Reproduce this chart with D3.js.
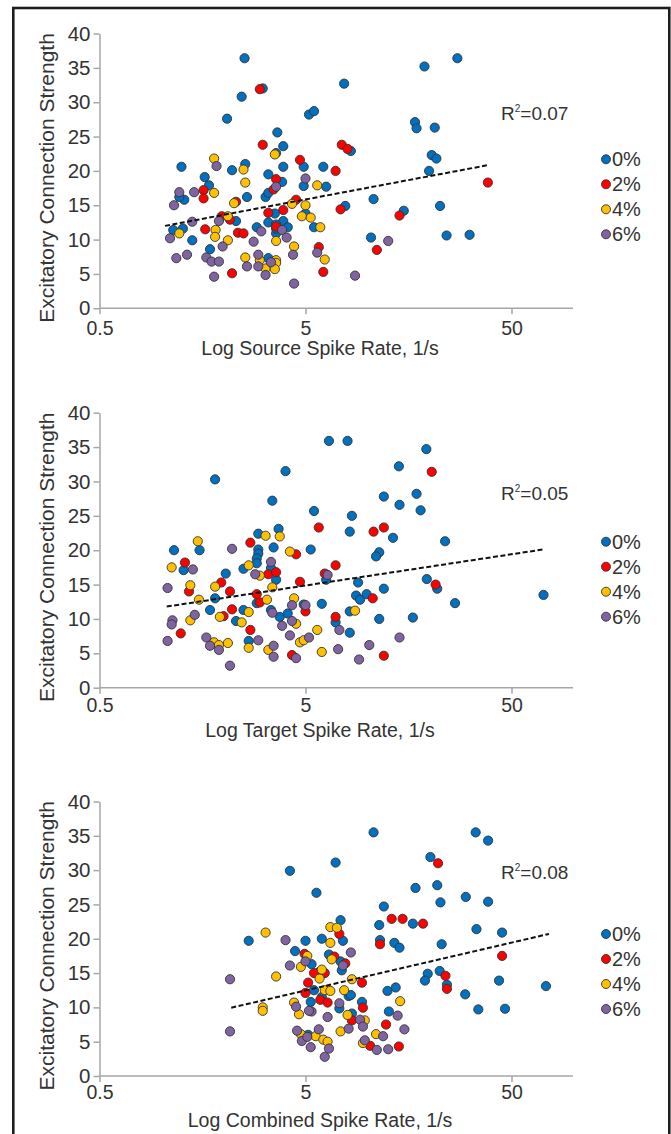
<!DOCTYPE html>
<html><head><meta charset="utf-8">
<script src="https://cdn.jsdelivr.net/npm/d3@7"></script>
<style>body{margin:0;background:#fff;} svg{display:block;font-family:"Liberation Sans",Arial,Helvetica,sans-serif;}</style>
</head><body>
<svg id="c" width="671" height="1134"></svg>
<script>
// ---------- data ----------
const seriesNames = ["0%", "2%", "4%", "6%"];
const seriesColors = ["#0070c0", "#ff0000", "#ffc000", "#8064a2"];
const xTicks = [0.5, 5, 50];
const yTicks = [0, 5, 10, 15, 20, 25, 30, 35, 40];
const xLabels = ["Log Source Spike Rate, 1/s", "Log Target Spike Rate, 1/s", "Log Combined Spike Rate, 1/s"];
const yLabel = "Excitatory Connection Strength";
const r2Values = ["0.07", "0.05", "0.08"];

// [rate (1/s), strength]
const source0 = [[2.53,36.4],[2.45,30.8],[2.08,27.6],[3.1,32.0],[3.65,25.6],[3.9,23.6],[3.6,22.6],[1.25,20.6],[3.9,20.6],[4.9,20.6],[6.1,20.6],[2.2,20.1],[2.55,21.0],[3.3,19.5],[3.85,18.4],[1.62,19.1],[1.7,17.9],[4.9,17.8],[6.3,17.7],[1.29,15.8],[1.22,16.2],[2.6,16.2],[3.2,16.2],[3.3,16.8],[3.55,13.8],[2.3,12.7],[5.0,13.8],[3.3,12.5],[3.9,12.7],[1.14,11.4],[1.27,11.6],[2.9,11.8],[3.6,12.2],[4.1,11.8],[5.5,11.8],[3.6,10.9],[1.41,9.9],[1.72,8.6],[3.3,7.3],[5.2,28.2],[5.5,28.7],[27.3,36.4],[18.9,35.2],[7.7,32.7],[17.0,27.1],[17.3,26.2],[21.2,26.3],[8.3,22.9],[20.5,22.3],[21.6,21.8],[19.9,20.0],[10.7,15.9],[7.8,14.9],[22.5,14.9],[15.0,14.2],[10.4,10.3],[24.2,10.6],[31.3,10.7],[3.6,11.6]];
const source2 = [[3.0,31.9],[3.1,23.8],[4.7,21.6],[3.6,18.8],[3.5,17.3],[1.6,17.2],[1.6,16.0],[2.3,15.5],[4.5,15.8],[3.3,13.9],[3.9,14.3],[1.96,13.4],[2.15,12.9],[1.63,11.5],[3.6,11.9],[2.35,11.0],[2.5,10.9],[5.8,8.9],[2.2,5.1],[6.1,5.3],[7.5,23.8],[8.0,23.2],[7.0,20.0],[38.4,18.3],[7.4,14.4],[14.3,13.5],[11.1,8.5]];
const source4 = [[3.55,22.4],[1.8,21.8],[2.5,20.2],[2.55,18.3],[5.7,17.9],[1.8,16.8],[2.25,15.3],[4.3,15.2],[5.0,15.0],[2.1,13.4],[4.8,13.4],[5.3,13.2],[1.22,10.9],[1.83,11.4],[5.9,11.8],[1.82,10.4],[2.1,9.9],[3.6,9.8],[4.4,9.0],[2.55,7.4],[3.0,7.0],[3.6,7.0],[3.6,6.6],[6.2,7.1],[3.2,5.8],[3.55,5.7]];
const source6 = [[1.85,20.7],[5.0,18.9],[3.6,17.7],[1.22,16.9],[1.44,16.9],[1.15,15.0],[1.9,12.7],[1.41,12.6],[3.85,11.4],[3.05,11.2],[4.05,10.3],[2.8,9.7],[1.1,10.2],[1.98,9.0],[1.18,7.3],[1.33,7.8],[1.65,7.4],[1.75,6.8],[1.9,6.8],[2.95,7.8],[3.4,6.7],[4.35,7.8],[5.7,8.1],[2.6,6.1],[2.95,6.1],[1.8,4.6],[3.2,4.85],[4.4,3.6],[12.6,9.8],[8.7,4.75]];

const target0 = [[1.82,30.3],[4.0,31.5],[3.45,27.2],[5.5,25.7],[6.5,35.9],[2.95,22.4],[3.7,23.1],[1.15,20.0],[1.53,20.0],[2.95,20.1],[2.95,19.5],[3.5,20.4],[5.3,20.1],[1.28,17.1],[2.9,18.8],[2.9,18.1],[2.5,17.3],[3.4,17.4],[2.05,16.6],[3.6,15.7],[6.3,15.7],[1.82,13.0],[2.9,12.3],[4.9,12.1],[6.0,12.2],[1.72,11.3],[2.5,11.3],[3.4,11.3],[3.75,10.3],[4.1,10.8],[2.3,9.7],[2.65,6.8],[8.0,35.9],[19.3,34.7],[14.2,32.2],[12.0,27.8],[14.3,26.6],[17.3,28.2],[18.1,25.8],[8.4,25.0],[8.2,22.7],[13.3,21.8],[23.8,21.3],[11.4,19.7],[11.0,19.1],[9.0,15.3],[19.4,15.8],[21.8,14.4],[8.8,13.4],[9.2,12.8],[9.9,13.6],[12.0,14.4],[26.6,12.3],[71.5,13.5],[8.2,11.1],[7.0,9.5],[8.2,8.0],[11.4,10.0],[16.6,10.2]];
const target2 = [[5.8,23.3],[2.7,21.1],[4.5,19.4],[1.3,18.2],[3.3,16.5],[3.6,16.8],[6.2,16.6],[1.95,15.3],[1.36,14.0],[4.7,15.4],[2.15,14.0],[2.9,13.6],[3.0,12.4],[2.2,11.4],[2.0,10.4],[5.0,11.1],[1.24,7.9],[2.7,8.4],[4.3,4.75],[20.5,31.4],[10.7,22.7],[12.0,23.3],[7.0,17.8],[21.4,15.0],[10.6,13.0],[7.0,10.3],[12.0,4.65]];
const target4 = [[3.2,22.1],[3.75,22.0],[1.5,21.3],[4.2,19.8],[1.12,17.5],[2.65,17.8],[3.0,16.3],[1.82,14.7],[1.38,14.9],[3.45,14.6],[1.52,12.8],[3.25,12.8],[4.4,13.0],[1.92,10.3],[2.65,11.0],[1.38,9.8],[2.45,9.5],[4.5,9.3],[5.7,8.4],[1.8,6.6],[1.9,6.2],[2.1,6.5],[2.65,5.8],[4.7,6.6],[4.9,6.9],[3.3,5.5],[6.0,5.2],[8.7,11.2]];
const target6 = [[2.2,20.2],[1.42,17.2],[3.4,18.3],[2.85,16.5],[6.4,16.4],[1.07,14.5],[5.0,12.0],[1.13,9.8],[1.12,9.2],[1.45,10.6],[3.45,10.9],[4.3,12.0],[4.3,9.7],[3.85,9.0],[1.07,6.8],[1.65,7.3],[1.72,6.1],[1.9,5.5],[2.95,6.9],[4.2,7.6],[5.2,7.3],[3.5,6.1],[3.5,4.5],[4.5,4.3],[2.15,3.2],[7.3,8.4],[7.2,5.6],[9.1,4.1],[10.2,6.2],[14.3,7.3]];

const combined0 = [[4.2,29.9],[5.65,26.7],[2.65,19.7],[5.0,19.7],[6.0,20.0],[4.45,18.2],[5.35,16.3],[5.85,15.2],[6.1,15.0],[5.3,10.8],[5.15,6.0],[10.7,35.5],[33.5,35.5],[38.5,34.3],[7.0,31.1],[20.2,31.9],[17.1,27.4],[21.8,27.8],[22.6,25.3],[30.0,26.1],[38.5,25.4],[12.0,24.7],[7.4,22.7],[11.4,22.0],[16.6,22.2],[33.8,21.4],[45.0,20.9],[7.6,19.7],[11.5,19.8],[13.5,19.4],[14.3,18.7],[22.9,19.2],[6.5,17.7],[7.4,16.7],[7.5,15.4],[19.6,14.9],[19.0,13.9],[22.4,15.3],[24.3,13.3],[43.5,13.9],[73.5,13.1],[12.5,12.4],[13.7,12.9],[29.8,11.9],[34.5,9.7],[46.5,9.8],[8.1,11.65],[8.3,11.8],[9.4,10.8],[7.3,9.85],[8.4,9.1],[12.7,9.4],[5.5,12.5],[6.0,11.5]];
const combined2 = [[4.95,17.8],[5.15,13.6],[5.0,12.1],[6.2,15.0],[5.9,11.1],[22.0,31.0],[13.1,22.9],[14.8,22.9],[18.6,22.2],[45.0,17.5],[7.3,20.7],[11.5,19.2],[6.9,17.4],[7.8,16.4],[9.4,13.6],[23.9,14.6],[24.3,12.7],[9.5,9.95],[6.4,10.7],[8.4,8.1],[12.3,7.5],[10.3,4.4],[14.2,4.3],[5.5,15.0]];
const combined4 = [[3.2,20.9],[5.1,17.5],[4.75,15.9],[3.6,14.5],[5.85,14.2],[6.2,12.5],[4.4,10.7],[4.65,9.0],[3.1,10.0],[3.1,9.5],[4.75,6.1],[5.6,5.8],[6.1,5.3],[6.4,5.0],[6.6,21.7],[7.1,21.6],[6.6,19.4],[6.7,17.0],[8.4,14.1],[6.6,12.4],[7.7,12.5],[14.4,10.9],[8.0,8.9],[9.7,8.1],[7.4,6.5],[11.0,6.1],[9.5,4.8],[6.0,15.5]];
const combined6 = [[4.0,19.8],[5.0,16.7],[4.2,16.1],[2.15,14.1],[4.5,10.1],[5.35,9.4],[5.2,9.5],[4.55,6.6],[5.8,6.8],[4.8,5.1],[6.2,2.8],[5.1,5.7],[2.15,6.5],[6.4,8.6],[8.3,18.0],[7.6,16.1],[7.3,10.6],[9.2,8.2],[9.5,7.2],[14.0,8.8],[15.1,6.8],[8.1,6.9],[11.9,5.8],[9.7,5.2],[11.1,3.8],[12.6,3.9],[6.5,4.0],[5.3,4.2]];

// regression fit endpoints [rate, strength]
const sourceFit = [[1.04,12.0],[38.8,20.86]];
const targetFit = [[1.06,11.8],[71.0,20.1]];
const combinedFit = [[2.18,9.95],[76.0,20.7]];

const panels = [
  {series:[source0,source2,source4,source6], fit:sourceFit},
  {series:[target0,target2,target4,target6], fit:targetFit},
  {series:[combined0,combined2,combined4,combined6], fit:combinedFit}
];

// ---------- layout ----------
const layouts = [
  {top:33.5, bottom:308.3, tickDy:20, labelDy:40, r2Dy:86.5, legDy:125.8},
  {top:412.7, bottom:687.7, tickDy:17.5, labelDy:42.5, r2Dy:86.8, legDy:129},
  {top:801.5, bottom:1076, tickDy:16.5, labelDy:44.5, r2Dy:77, legDy:132.5}
];
const axisColor = "#a6a6a6", textColor = "#333";

const svg = d3.select("#c");
svg.append("rect").attr("x",0).attr("y",0).attr("width",671).attr("height",1134).attr("fill","#fff");
svg.append("rect").attr("x",13.3).attr("y",8).attr("width",656).attr("height",1150)
  .attr("fill","none").attr("stroke","#1e1e1e").attr("stroke-width",2.6);

const x = d3.scaleLog().domain([0.5, 50]).range([99.5, 511.5]);
const axisEnd = 573;

panels.forEach((p, i) => {
  const L = layouts[i];
  const y = d3.scaleLinear().domain([0, 40]).range([L.bottom, L.top]);
  const g = svg.append("g");

  // y axis
  const ya = g.append("g").attr("transform", `translate(${x(0.5)},0)`)
    .call(d3.axisLeft(y).tickValues(yTicks).tickSize(6).tickSizeOuter(0).tickPadding(3));
  ya.select(".domain").attr("stroke", axisColor).attr("stroke-width", 1.5);
  ya.selectAll(".tick line").attr("stroke", axisColor).attr("stroke-width", 1.5);
  ya.selectAll(".tick text").attr("fill", textColor).style("font-size", "20.5px").style("font-family", "inherit");

  // x axis
  const xa = g.append("g").attr("transform", `translate(0,${L.bottom})`)
    .call(d3.axisBottom(x).tickValues(xTicks).tickFormat(d => String(d)).tickSize(6).tickSizeOuter(0));
  xa.select(".domain").remove();
  xa.append("line").attr("x1", x(0.5)).attr("x2", axisEnd).attr("y1", 0).attr("y2", 0)
    .attr("stroke", axisColor).attr("stroke-width", 1.5);
  xa.selectAll(".tick line").attr("stroke", axisColor).attr("stroke-width", 1.5);
  xa.selectAll(".tick text").attr("fill", textColor).style("font-size", "19.5px").style("font-family", "inherit")
    .attr("y", L.tickDy).attr("dy", "0.35em");

  // axis titles
  g.append("text").attr("x", 320).attr("y", L.bottom + L.labelDy).attr("dy", "0.35em")
    .attr("text-anchor", "middle").attr("fill", textColor).style("font-size", "19.5px")
    .text(xLabels[i]);
  g.append("text").attr("transform", `translate(46.5,${(L.top + L.bottom) / 2 + 7}) rotate(-90)`)
    .attr("dy", "0.35em").attr("text-anchor", "middle").attr("fill", textColor)
    .style("font-size", "21px").text(yLabel);

  // points
  p.series.forEach((s, k) => {
    g.append("g").selectAll("circle").data(s).join("circle")
      .attr("cx", d => x(d[0])).attr("cy", d => y(d[1])).attr("r", 4.6)
      .attr("fill", seriesColors[k]).attr("stroke", "#333").attr("stroke-width", 0.9);
  });

  // fit line
  g.append("path").datum(p.fit)
    .attr("d", d3.line().x(d => x(d[0])).y(d => y(d[1])))
    .attr("fill", "none").attr("stroke", "#111").attr("stroke-width", 2)
    .attr("stroke-dasharray", "5,2.5");

  // R^2 label
  const t = g.append("text").attr("x", 501).attr("y", L.top + L.r2Dy).attr("fill", textColor).style("font-size", "19px");
  t.append("tspan").text("R");
  t.append("tspan").attr("dy", -8).style("font-size", "10px").text("2");
  t.append("tspan").attr("dy", 8).text("=" + r2Values[i]);

  // legend
  seriesNames.forEach((n, k) => {
    const ly = L.top + L.legDy + 25 * k;
    g.append("circle").attr("cx", 606).attr("cy", ly).attr("r", 4.5)
      .attr("fill", seriesColors[k]).attr("stroke", "#333").attr("stroke-width", 0.9);
    g.append("text").attr("x", 612).attr("y", ly).attr("dy", "0.35em")
      .attr("fill", textColor).style("font-size", "20px").text(n);
  });
});
</script>
</body></html>
